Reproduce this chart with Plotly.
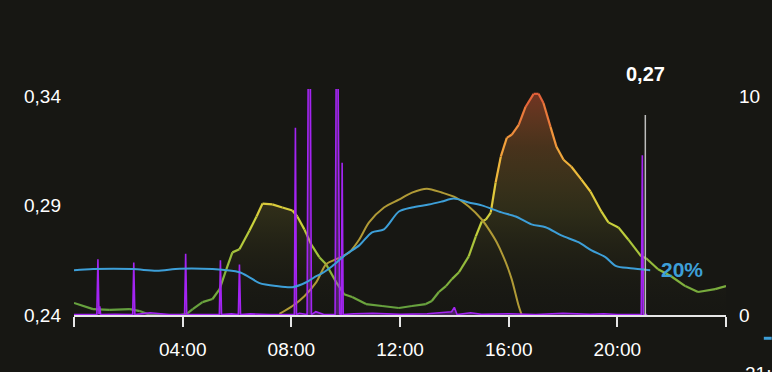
import plotly.graph_objects as go
from plotly.colors import sample_colorscale

# ---------------- data ----------------
price_h = [0.0, 0.70, 1.32, 2.06, 2.42, 2.79, 3.16, 3.89, 4.15, 4.37, 4.73, 5.10, 5.36, 5.61, 5.83,
           6.09, 6.46, 6.72, 6.94, 7.30, 7.67, 8.04, 8.22, 8.48, 8.73, 9.03, 9.28, 9.65, 9.94, 10.24,
           10.75, 11.34, 11.96, 12.44, 12.95, 13.17, 13.43, 13.69, 13.91, 14.17, 14.53, 14.79, 15.01,
           15.16, 15.34, 15.52, 15.71, 15.93, 16.11, 16.37, 16.62, 16.92, 17.10, 17.28, 17.54, 17.76,
           18.02, 18.31, 18.68, 19.01, 19.41, 19.67, 20.04, 20.40, 20.88, 21.06, 21.50, 21.98, 22.50,
           22.97, 23.60, 24.0]
price_v = [0.2455, 0.2427, 0.2423, 0.2427, 0.2418, 0.2401, 0.2400, 0.2400, 0.2405, 0.2427, 0.2459,
           0.2473, 0.2518, 0.2609, 0.2686, 0.2700, 0.2786, 0.2850, 0.2909, 0.2905, 0.2891, 0.2877,
           0.2850, 0.2791, 0.2723, 0.2664, 0.2632, 0.2550, 0.2495, 0.2482, 0.2450, 0.2441, 0.2432,
           0.2441, 0.2450, 0.2464, 0.2505, 0.2532, 0.2564, 0.2595, 0.2668, 0.2759, 0.2827, 0.2836,
           0.2868, 0.3005, 0.3123, 0.3209, 0.3223, 0.3268, 0.3350, 0.3410, 0.3410, 0.3368, 0.3259,
           0.3168, 0.3109, 0.3077, 0.3018, 0.2964, 0.2873, 0.2823, 0.2800, 0.2745, 0.2668, 0.2659,
           0.2609, 0.2577, 0.2532, 0.2505, 0.2518, 0.2532]

battery_h = [0.0, 0.70, 2.17, 3.05, 3.89, 5.10, 6.09, 6.46, 6.83, 7.45, 8.04, 8.55, 8.92, 9.14, 9.50,
             10.02, 10.50, 10.97, 11.41, 11.96, 12.44, 13.06, 13.54, 13.98, 14.53, 15.01, 15.74,
             16.26, 16.84, 17.36, 17.94, 18.57, 19.05, 19.56, 19.96, 20.48, 21.21]
battery_pct = [19.8, 20.3, 20.3, 19.6, 20.5, 20.3, 18.9, 16.7, 14.1, 12.8, 12.3, 14.5, 17.2, 18.5,
               21.6, 26.9, 30.8, 36.6, 37.9, 45.8, 47.6, 48.9, 50.2, 51.5, 49.8, 48.5, 45.4, 43.6,
               40.1, 38.8, 35.2, 32.2, 28.6, 25.6, 21.6, 20.7, 19.8]

solar_h = [7.56, 8.04, 8.48, 8.92, 9.28, 9.65, 10.13, 10.50, 10.86, 11.41, 11.96, 12.44, 12.99,
           13.54, 14.06, 14.53, 15.01, 15.27, 15.56, 15.89, 16.11, 16.37, 16.48]
solar_kw = [0.05, 0.41, 0.86, 1.50, 2.32, 2.55, 2.86, 3.45, 4.23, 4.91, 5.27, 5.59, 5.77, 5.59,
            5.36, 4.95, 4.36, 3.91, 3.32, 2.41, 1.64, 0.41, 0.0]

load_h = [0.0, 0.84, 0.88, 0.92, 0.95, 0.98, 1.5, 2.16, 2.20, 2.24, 2.8, 3.5, 4.07, 4.11, 4.15, 4.6,
          5.35, 5.39, 5.43, 5.8, 6.05, 6.09, 6.13, 6.5, 7.2, 8.11, 8.15, 8.19, 8.3, 8.58, 8.62, 8.70,
          8.74, 8.9, 9.2, 9.61, 9.65, 9.72, 9.78, 9.84, 9.87, 9.91, 10.3, 11.0, 12.0, 13.0, 13.9,
          14.0, 14.1, 14.6, 15.0, 16.0, 17.0, 18.0, 19.0, 19.5, 20.0, 20.88, 20.92, 20.96, 21.1]
load_kw = [0.02, 0.02, 2.55, 0.05, 0.4, 0.02, 0.03, 0.02, 2.4, 0.02, 0.1, 0.02, 0.02, 2.8, 0.02, 0.03,
           0.02, 2.5, 0.02, 0.05, 0.02, 2.3, 0.02, 0.05, 0.02, 0.02, 8.55, 0.02, 0.08, 0.02, 11.0, 11.0,
           0.02, 0.15, 0.02, 0.02, 11.0, 11.0, 0.05, 0.02, 6.95, 0.02, 0.06, 0.08, 0.03, 0.06, 0.15, 0.35,
           0.02, 0.1, 0.03, 0.06, 0.02, 0.08, 0.03, 0.06, 0.02, 0.02, 7.3, 0.02, 0.02]

x_tickvals = [0, 4, 8, 12, 16, 20, 24]
x_ticktext = ["", "04:00", "08:00", "12:00", "16:00", "20:00", ""]
left_tickvals = [0.24, 0.29, 0.34]
left_ticktext = ["0,24", "0,29", "0,34"]
right_tickvals = [0, 10]
right_ticktext = ["0", "10"]

now_hour = 21.03
now_label = "0,27"
battery_label = "20%"

# ---------------- styling ----------------
BG = "#171713"
FONT = "Liberation Sans, Arial, sans-serif"
PMIN, PMAX = 0.24, 0.3432
price_scale = [[0.0, "#5e9c3f"], [0.2, "#8db83c"], [0.4, "#c9d23c"], [0.58, "#ecc43c"],
               [0.77, "#f29a3c"], [1.0, "#e0583a"]]

fig = go.Figure()

# gradient fill under price
fig.add_trace(go.Scatter(
    x=price_h, y=price_v, mode="lines", line=dict(width=0, color="rgba(0,0,0,0)"),
    fill="tozeroy",
    fillgradient=dict(type="vertical", start=PMIN, stop=PMAX,
                      colorscale=[[0.0, "rgba(40,40,20,0)"], [0.45, "rgba(190,180,60,0.13)"],
                                  [0.75, "rgba(200,120,50,0.28)"], [1.0, "rgba(210,80,50,0.5)"]]),
    hoverinfo="skip", showlegend=False))

# solar (khaki)
fig.add_trace(go.Scatter(x=solar_h, y=solar_kw, yaxis="y2", mode="lines",
                         line=dict(color="#b09a36", width=2, shape="spline", smoothing=0.8),
                         hoverinfo="skip", showlegend=False))

# battery (blue)
fig.add_trace(go.Scatter(x=battery_h, y=battery_pct, yaxis="y3", mode="lines",
                         line=dict(color="#3d9fd8", width=2, shape="spline", smoothing=0.8),
                         hoverinfo="skip", showlegend=False))

# price line segments colored by value
for i in range(len(price_h) - 1):
    mid = (price_v[i] + price_v[i + 1]) / 2
    frac = min(max((mid - PMIN) / (PMAX - PMIN), 0), 1)
    col = sample_colorscale(price_scale, [frac])[0]
    fig.add_trace(go.Scatter(x=price_h[i:i + 2], y=price_v[i:i + 2], mode="lines",
                             line=dict(color=col, width=2.2), hoverinfo="skip", showlegend=False))

# consumption (purple spikes)
fig.add_trace(go.Scatter(x=load_h, y=load_kw, yaxis="y2", mode="lines",
                         line=dict(color="#a324f2", width=1.6),
                         fill="tozeroy", fillcolor="rgba(170,60,240,0.35)",
                         hoverinfo="skip", showlegend=False))

fig.update_layout(
    width=772, height=372, autosize=False,
    margin=dict(l=74, r=44, t=89, b=53),
    paper_bgcolor=BG, plot_bgcolor=BG,
    font=dict(family=FONT, color="#ffffff", size=19),
    xaxis=dict(range=[0, 24], tickvals=x_tickvals, ticktext=x_ticktext,
               showgrid=False, zeroline=False, showline=True, linecolor="#e6e6e6", linewidth=1.5,
               ticks="outside", ticklen=10, tickwidth=1.5, tickcolor="#e6e6e6",
               ticklabelstandoff=6, layer="below traces",
               tickfont=dict(size=19, color="#ffffff", family=FONT)),
    yaxis=dict(range=[PMIN, PMAX], tickvals=left_tickvals, ticktext=left_ticktext,
               showgrid=False, zeroline=False, showline=False, ticks="",
               ticklabelstandoff=12, tickfont=dict(size=19, color="#ffffff", family=FONT)),
    yaxis2=dict(range=[0, 10.32], overlaying="y", side="right", tickvals=right_tickvals,
                ticktext=right_ticktext, showgrid=False, zeroline=False, showline=False, ticks="",
                ticklabelstandoff=12, tickfont=dict(size=19, color="#ffffff", family=FONT)),
    yaxis3=dict(range=[0, 100], overlaying="y", visible=False),
    shapes=[
        dict(type="line", xref="x", yref="paper", x0=now_hour, x1=now_hour, y0=0, y1=0.885,
             line=dict(color="#bdbdbd", width=1.5), layer="above"),
        dict(type="line", xref="paper", yref="paper", x0=1.058, x1=1.07, y0=-0.103, y1=-0.103,
             line=dict(color="#3d9fd8", width=3)),
    ],
    annotations=[
        dict(text="<b>" + now_label + "</b>", xref="x", x=now_hour, yref="paper", y=1.066,
             showarrow=False, xanchor="center", yanchor="middle",
             font=dict(size=20, color="#ffffff", family=FONT)),
        dict(text="<b>" + battery_label + "</b>", xref="x", x=21.55, yref="y3", y=20,
             showarrow=False, xanchor="left", yanchor="middle",
             font=dict(size=21, color="#3d9fd8", family=FONT)),
        dict(text="21:00", xref="paper", x=1.026, yref="paper", y=-0.205,
             showarrow=False, xanchor="left", yanchor="top",
             font=dict(size=19, color="#ffffff", family=FONT)),
    ],
)

fig.write_html("out.html")
